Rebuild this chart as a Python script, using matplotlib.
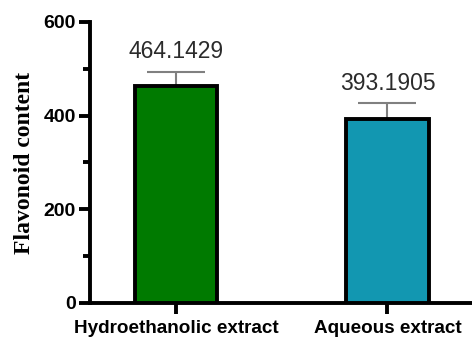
import matplotlib

matplotlib.use("Agg")
import matplotlib.pyplot as plt
from matplotlib.ticker import MultipleLocator

# data
categories = ["Hydroethanolic extract", "Aqueous extract"]
means = [464.1429, 393.1905]
errors = [30, 33]
labels = ["464.1429", "393.1905"]
colors = ["#007A00", "#1297B1"]

fig = plt.figure(figsize=(4.72, 3.38), dpi=100)
ax = fig.add_axes([0.1907, 0.1036, 0.8093, 0.8314])

x = [0, 1]
ax.bar(x, means, width=0.39, color=colors, edgecolor="black", linewidth=2.8,
       zorder=3)
ax.errorbar(x, means, yerr=[[0, 0], errors], fmt="none", ecolor="#808080",
            elinewidth=1.5, capsize=21, capthick=1.5, zorder=2)

for xi, m, e, lab in zip(x, means, errors, labels):
    ax.annotate(lab, xy=(xi, m + e), xytext=(0, 6), textcoords="offset points",
                ha="center", va="bottom", fontsize=16.5, color="#2b2b2b",
                family="Liberation Sans")

ax.set_xlim(-0.407, 1.40)
ax.set_ylim(0, 600)
ax.yaxis.set_major_locator(MultipleLocator(200))
ax.yaxis.set_minor_locator(MultipleLocator(100))
ax.set_xticks(x)
ax.set_xticklabels(categories, fontsize=13.6, fontweight="bold",
                   family="Liberation Sans")
for lab in ax.get_yticklabels():
    lab.set_fontsize(14)
    lab.set_fontweight("bold")
    lab.set_family("Liberation Sans")

ax.set_ylabel("Flavonoid content", fontsize=17, fontweight="bold",
              family="Liberation Serif", labelpad=6)

for side in ["top", "right"]:
    ax.spines[side].set_visible(False)
for side in ["left", "bottom"]:
    ax.spines[side].set_linewidth(2.8)
ax.tick_params(axis="both", which="major", width=2.8, length=8, pad=2)
ax.tick_params(axis="x", which="major", pad=4)
ax.tick_params(axis="y", which="minor", width=2.8, length=5)

fig.savefig("out.png", dpi=100)
